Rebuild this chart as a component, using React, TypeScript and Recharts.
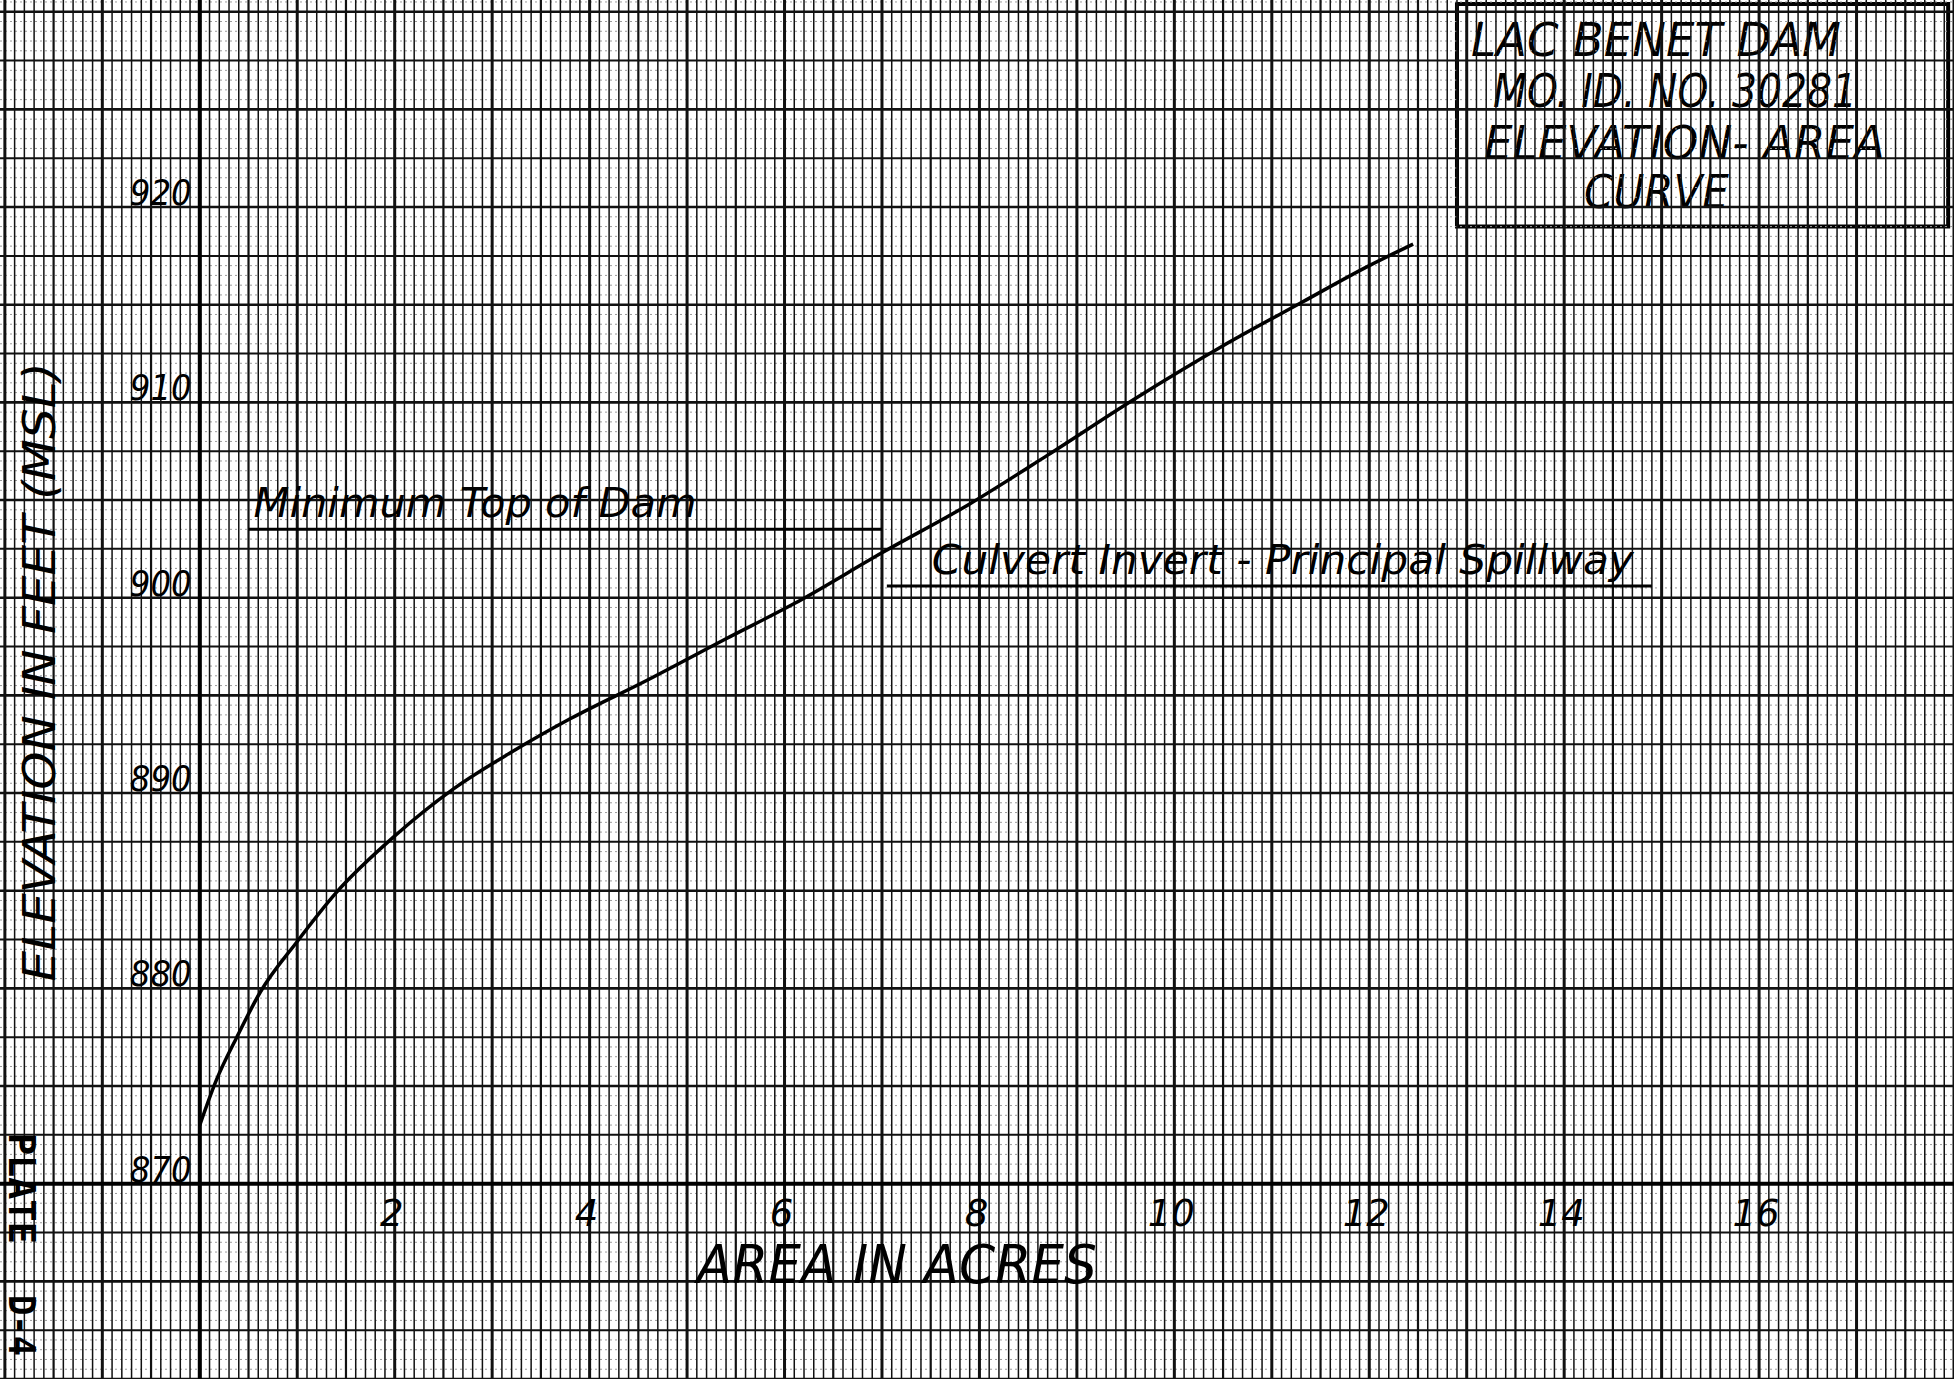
import React from 'react';
import { ComposedChart, Line, XAxis, YAxis, ReferenceLine, ReferenceDot, ReferenceArea } from 'recharts';

// elevation-area curve (acres vs ft MSL)
const areaAcres = [0, 0.17, 0.38, 0.62, 1.0, 1.4, 2.0, 2.6, 3.2, 3.8, 4.6, 5.4, 6.1, 7.0, 7.9, 8.7, 9.6, 10.5, 11.3, 12.0, 12.45];
const elevationFt = [873.0, 875.3, 877.5, 879.8, 882.4, 884.9, 887.8, 890.2, 892.1, 893.8, 895.8, 897.9, 899.7, 902.3, 904.8, 907.3, 910.2, 912.9, 915.1, 917.0, 918.1];

const xTicks = [2, 4, 6, 8, 10, 12, 14, 16];
const yTicks = [870, 880, 890, 900, 910, 920];

// annotation lines: [from acres, to acres], elevation
const damSpan = [0.5, 7.0];
const damElev = 903.5;
const culvertSpan = [7.05, 14.9];
const culvertElev = 900.6;

const titleLines = ['LAC BENET DAM', 'MO. ID. NO. 30281', 'ELEVATION- AREA', 'CURVE'];
const titleBox = [12.9, 17.94, 919.0, 930.4];

const X_MIN = -2.05;
const X_MAX = 18.0;
const Y_MIN = 860;
const Y_MAX = 930.6;

const HAND = "'DejaVu Sans', 'Liberation Sans', sans-serif";
const TYPE = "'DejaVu Sans Mono', 'Liberation Mono', monospace";

const data = areaAcres.map((a, i) => ({ area: a, elev: elevationFt[i] }));

// graph paper lines
const vLines = Array.from({ length: 201 }, (_, i) => ({ v: Math.round((-2 + i * 0.1) * 10) / 10, k: i }));
const hLines = Array.from({ length: 142 }, (_, i) => ({ v: 860 + i * 0.5, k: i }));

type TxtOpts = {
  dx?: number;
  dy?: number;
  anchor?: 'start' | 'middle' | 'end';
  size: number;
  rotate?: number;
  width?: number;
  italic?: boolean;
  weight?: number | string;
  family?: string;
};

const txt = (value: string, o: TxtOpts) => (props: any) => {
  const vb = props.viewBox ?? {};
  const x = (vb.x ?? 0) + (o.dx ?? 0);
  const y = (vb.y ?? 0) + (o.dy ?? 0);
  return (
    <text
      x={x}
      y={y}
      textAnchor={o.anchor ?? 'start'}
      fontSize={o.size}
      fontFamily={o.family ?? HAND}
      fontStyle={o.italic === false ? 'normal' : 'italic'}
      fontWeight={o.weight ?? 400}
      fill="#000"
      textLength={o.width}
      lengthAdjust={o.width ? 'spacingAndGlyphs' : undefined}
      transform={o.rotate ? `rotate(${o.rotate} ${x} ${y})` : undefined}
    >
      {value}
    </text>
  );
};

// title block text, positioned inside the box
const titleLayout = [
  { dx: 14, dy: 56, w: 370 },
  { dx: 36, dy: 107, w: 364 },
  { dx: 27, dy: 159, w: 401 },
  { dx: 127, dy: 208, w: 145 },
];

const TitleText = (props: any) => {
  const vb = props.viewBox ?? {};
  return (
    <g>
      {titleLines.map((line, i) => (
        <text
          key={line}
          x={(vb.x ?? 0) + titleLayout[i].dx}
          y={titleLayout[i].dy}
          fontSize={46}
          fontFamily={HAND}
          fontStyle="italic"
          fill="#000"
          textLength={titleLayout[i].w}
          lengthAdjust="spacingAndGlyphs"
        >
          {line}
        </text>
      ))}
    </g>
  );
};

const App: React.FC = () => {
  return (
    <div style={{ position: 'absolute', left: 0, top: 0, width: 1954, height: 1379, background: '#fff', overflow: 'hidden' }}>
      <ComposedChart width={1954} height={1379} data={data} margin={{ top: 0, right: 0, bottom: 0, left: 0 }}>
        <XAxis dataKey="area" type="number" domain={[X_MIN, X_MAX]} allowDataOverflow hide />
        <YAxis type="number" domain={[Y_MIN, Y_MAX]} allowDataOverflow hide />

        {/* faint dotted horizontals every half foot */}
        {hLines
          .filter((h) => h.k % 5 !== 0)
          .map((h) => (
            <ReferenceLine key={`hf${h.k}`} y={h.v} stroke="#9a9a9a" strokeWidth={1} strokeDasharray="2 3" />
          ))}

        {/* verticals every 0.1 acre */}
        {vLines.map((l) => (
          <ReferenceLine
            key={`v${l.k}`}
            x={l.v}
            stroke="#111"
            strokeWidth={l.k % 10 === 0 ? 3 : l.k % 5 === 0 ? 2.2 : 1.5}
          />
        ))}

        {/* horizontals every 2.5 and 5 ft */}
        {hLines
          .filter((h) => h.k % 5 === 0)
          .map((h) => (
            <ReferenceLine key={`hm${h.k}`} y={h.v} stroke="#111" strokeWidth={h.k % 10 === 0 ? 2.6 : 2} />
          ))}

        {/* main axes */}
        <ReferenceLine x={0} stroke="#000" strokeWidth={4} />
        <ReferenceLine y={870} stroke="#000" strokeWidth={4} />

        {/* tick labels */}
        {yTicks.map((t) => (
          <ReferenceDot key={`yt${t}`} x={0} y={t} r={0} fill="none" stroke="none" label={txt(String(t), { dx: -8, dy: -2, anchor: 'end', size: 36, width: 62 })} />
        ))}
        {xTicks.map((t) => (
          <ReferenceDot key={`xt${t}`} x={t} y={870} r={0} fill="none" stroke="none" label={txt(String(t), { dx: -3, dy: 42, anchor: 'middle', size: 37 })} />
        ))}

        {/* axis titles */}
        <ReferenceDot x={5.1} y={865} r={0} fill="none" stroke="none" label={txt('AREA IN ACRES', { dy: 2, size: 54, width: 400 })} />
        <ReferenceDot x={X_MIN} y={896.2} r={0} fill="none" stroke="none" label={txt('ELEVATION IN FEET (MSL)', { dx: 55, anchor: 'middle', size: 44, width: 619, rotate: -90 })} />
        <ReferenceDot x={X_MIN} y={872.6} r={0} fill="none" stroke="none" label={txt('PLATE', { dx: 9, size: 38, width: 111, rotate: 90, italic: false, weight: 700, family: TYPE })} />
        <ReferenceDot x={X_MIN} y={864.3} r={0} fill="none" stroke="none" label={txt('D-4', { dx: 9, size: 38, width: 61, rotate: 90, italic: false, weight: 700, family: TYPE })} />

        {/* Minimum Top of Dam */}
        <ReferenceLine segment={[{ x: damSpan[0], y: damElev }, { x: damSpan[1], y: damElev }]} stroke="#000" strokeWidth={3} />
        <ReferenceDot x={damSpan[0]} y={damElev} r={0} fill="none" stroke="none" label={txt('Minimum Top of Dam', { dx: 5, dy: -12, size: 41, width: 443 })} />

        {/* Culvert Invert - Principal Spillway */}
        <ReferenceLine segment={[{ x: culvertSpan[0], y: culvertElev }, { x: culvertSpan[1], y: culvertElev }]} stroke="#000" strokeWidth={3} />
        <ReferenceDot x={culvertSpan[0]} y={culvertElev} r={0} fill="none" stroke="none" label={txt('Culvert  Invert - Principal  Spillway', { dx: 45, dy: -12, size: 41, width: 702 })} />

        {/* title block */}
        <ReferenceArea
          x1={titleBox[0]}
          x2={titleBox[1]}
          y1={titleBox[2]}
          y2={titleBox[3]}
          fill="none"
          fillOpacity={0}
          stroke="#000"
          strokeWidth={4}
          ifOverflow="visible"
          label={TitleText}
        />

        <Line
          dataKey="elev"
          type="monotone"
          stroke="#000"
          strokeWidth={3.5}
          dot={false}
          activeDot={false}
          isAnimationActive={false}
        />
      </ComposedChart>
    </div>
  );
};

export default App;
